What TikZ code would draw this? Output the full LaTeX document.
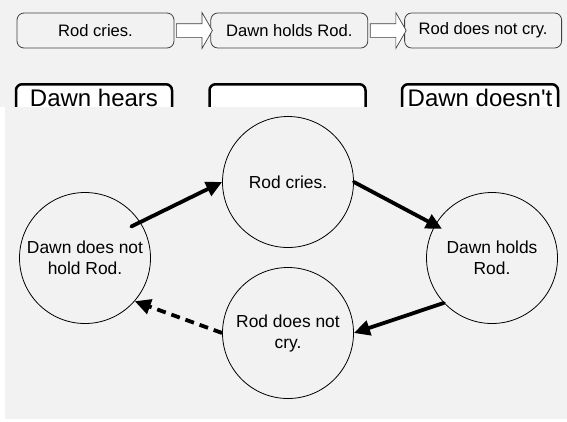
\documentclass[tikz,border=0pt]{standalone}
\usepackage{fontspec}
\setmainfont{Liberation Sans}[Ligatures=TeXOff]
\usetikzlibrary{arrows.meta, positioning, shapes.arrows, calc}

\begin{document}
\begin{tikzpicture}[x=1pt, y=-1pt, >=Triangle]

    % --- DEFINITIONS ---
    \definecolor{panel}{RGB}{242, 242, 242}
    \definecolor{edge}{RGB}{64, 64, 64}
    \tikzset{
        stepbox/.style={draw=edge, fill=panel, rounded corners=7pt, line width=0.8pt,
            minimum width=157pt, minimum height=35pt, inner sep=0pt,
            font=\fontsize{16.6}{19}\selectfont},
        blockarrow/.style={single arrow, draw=edge, fill=white, line width=0.7pt,
            inner xsep=0pt, inner ysep=6.5pt, minimum height=36pt,
            single arrow head extend=11pt, single arrow tip angle=120},
        notebox/.style={draw, fill=white, rounded corners=6pt, line width=2.5pt,
            minimum width=156pt, text height=17pt, text depth=30pt, inner ysep=5pt,
            anchor=north, font=\fontsize{24}{28}\selectfont},
        state/.style={circle, draw, line width=0.8pt, minimum size=131pt, inner sep=0pt,
            align=center, font=\fontsize{17.4}{21}\selectfont},
        link/.style={-{Triangle[length=16pt, width=15pt]}, line width=3.8pt},
    }
    \useasboundingbox (0,0) rectangle (567,421);

    % --- TOP PANEL: THE SEQUENCE ---
    \fill[panel] (0,0) rectangle (567,107);
    \node[stepbox] (s1) at (95.5,30.5) {Rod cries.};
    \node[stepbox, right=36pt of s1] (s2) {Dawn holds Rod.};
    \node[stepbox, right=36pt of s2] (s3) {Rod does not cry.};
    \node[blockarrow] (a1) at ($(s1.east)!0.5!(s2.west)$) {};
    \node[blockarrow] (a2) at ($(s2.east)!0.5!(s3.west)$) {};

    % Notes (cut off by the panel below)
    \node[notebox] (n1) at (94,83) {Dawn hears};
    \node[notebox] (n2) at (287.5,83) {};
    \node[notebox] (n3) at (480,83) {Dawn doesn't};

    % --- BOTTOM PANEL: THE CYCLE ---
    \fill[panel] (5,107) rectangle (567,419);
    \node[state] (dn) at (85,258) {Dawn does not\\hold Rod.};
    \node[state] (rc) at (288,182) {Rod cries.};
    \node[state] (dh) at (492,258) {Dawn holds\\Rod.};
    \node[state] (rn) at (288,333) {Rod does not\\cry.};

    \draw[link, line cap=round, shorten <=-10pt] (dn.33) -- (rc.west);
    \draw[link, line cap=round, shorten >=-8pt] (rc.east) -- (dh.150);
    \draw[link, line cap=round] (dh.223) -- (rn.east);
    \draw[link, dash pattern=on 9pt off 6pt] (rn.west) -- (dn.319);
\end{tikzpicture}
\end{document}
